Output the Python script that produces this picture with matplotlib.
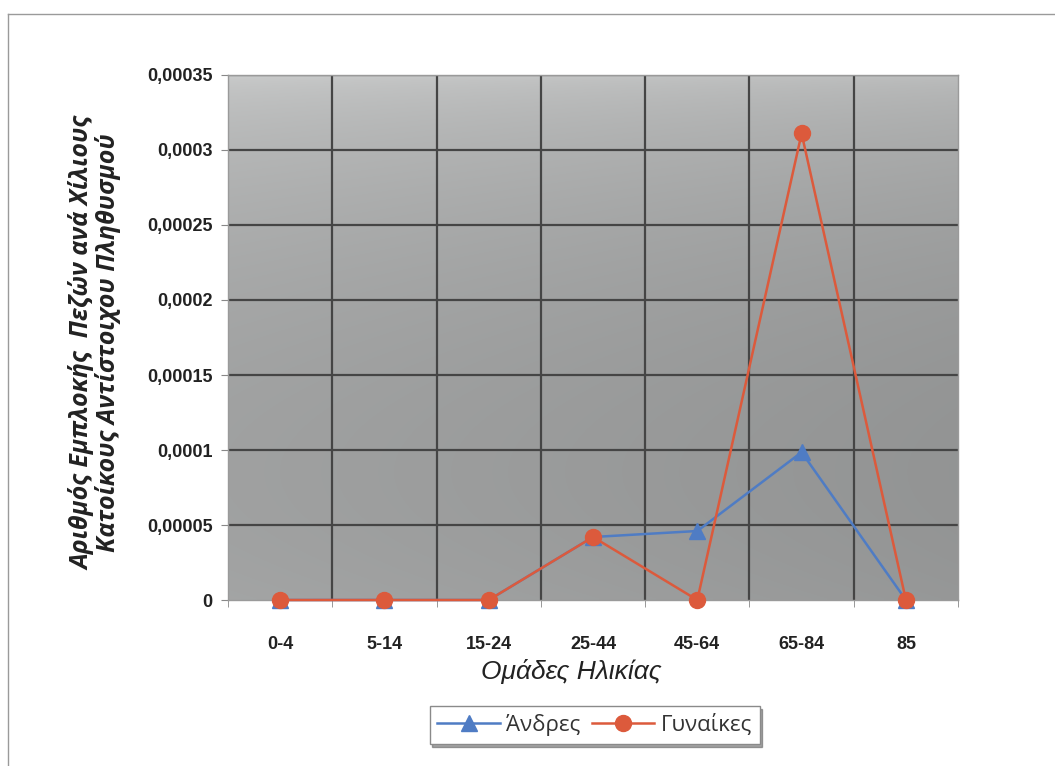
import matplotlib

matplotlib.use("Agg")
import matplotlib.pyplot as plt
import numpy as np
from matplotlib.lines import Line2D

# age groups and rates per thousand inhabitants
age_groups = ["0-4", "5-14", "15-24", "25-44", "45-64", "65-84", "85"]
men = [0.0, 0.0, 0.0, 0.000042, 0.000046, 0.0000985, 0.0]
women = [0.0, 0.0, 0.0, 0.000042, 0.0, 0.000311, 0.0]
y_ticks = [0, 0.00005, 0.0001, 0.00015, 0.0002, 0.00025, 0.0003, 0.00035]
y_tick_labels = ["0", "0,00005", "0,0001", "0,00015", "0,0002", "0,00025", "0,0003", "0,00035"]

C_MEN, C_WOMEN = "#4f7cc4", "#dc5a3c"
GRID = "#454545"

fig = plt.figure(figsize=(10.55, 7.66), dpi=100)
ax = fig.add_axes([0.2161, 0.2167, 0.692, 0.6854])

# grey gradient background of the plot area
rows = np.linspace(0, 1, 200)[:, None]
cols = np.linspace(0, 1, 200)[None, :]
shade = 0.80 - 0.24 * np.sqrt(rows) + 0.08 * rows ** 3 - 0.05 * cols
ax.imshow(np.dstack([shade, shade + 0.005, shade + 0.005]).clip(0, 1),
          extent=[0, 1, 0, 1], transform=ax.transAxes, aspect="auto",
          zorder=0, interpolation="bilinear")

x = np.arange(len(age_groups))
ax.set_xlim(-0.5, len(age_groups) - 0.5)
ax.set_ylim(0, 0.00035)

for yv in y_ticks[1:]:
    ax.axhline(yv, color=GRID, lw=1.6, zorder=1)
for xv in np.arange(0.5, len(age_groups) - 0.5, 1.0):
    ax.axvline(xv, color=GRID, lw=1.6, zorder=1)

# women drawn over the men, as in the original
ax.plot(x, men, color=C_MEN, lw=1.8, marker="^", ms=11,
        mec=C_MEN, label="Άνδρες", zorder=3, clip_on=False)
ax.plot(x, women, color=C_WOMEN, lw=1.8, marker="o", ms=11.5,
        mec=C_WOMEN, label="Γυναίκες", zorder=4, clip_on=False)

ax.set_yticks(y_ticks)
ax.set_yticklabels(y_tick_labels, fontsize=13, fontweight="bold",
                   family="Liberation Sans", color="#222222")
ax.set_xticks(x)
ax.set_xticklabels(age_groups, fontsize=13, fontweight="bold",
                   family="Liberation Sans", color="#222222")
ax.set_xticks(np.arange(-0.5, len(age_groups), 1.0), minor=True)
ax.tick_params(axis="x", which="major", length=0, pad=26)
ax.tick_params(axis="x", which="minor", length=5, color="#888888")
ax.tick_params(axis="y", length=5, color="#888888", pad=6)
for sp in ax.spines.values():
    sp.set_color("#9a9a9a")
    sp.set_linewidth(1.0)

ax.set_xlabel("Ομάδες Ηλικίας", fontsize=19, style="italic",
              family="Liberation Sans", color="#222222")
ax.xaxis.set_label_coords(0.47, -0.112)
ax.set_ylabel("Αριθμός Εμπλοκής  Πεζών ανά Χίλιους\nΚατοίκους Αντίστοιχου Πληθυσμού",
              fontsize=18, style="italic", fontweight="bold", family="Open Sans",
              color="#222222", linespacing=1.0)
ax.yaxis.set_label_coords(-0.146, 0.49)

leg = fig.legend(loc="center", ncol=2, bbox_to_anchor=(0.5636, 0.0535),
                 frameon=True, fancybox=False, shadow=True, borderpad=0.35,
                 handlelength=2.8, columnspacing=0.5, handletextpad=0.3,
                 prop={"family": "Open Sans", "size": 16})
leg.get_frame().set_edgecolor("#8a8a8a")
for t in leg.get_texts():
    t.set_color("#333333")

# outer chart border (top and left edges visible in the scan)
fig.add_artist(Line2D([0.008, 1.0], [0.982, 0.982], color="#9a9a9a", lw=1.0))
fig.add_artist(Line2D([0.008, 0.008], [0.0, 0.982], color="#9a9a9a", lw=1.0))

fig.savefig("out.png", dpi=100)
